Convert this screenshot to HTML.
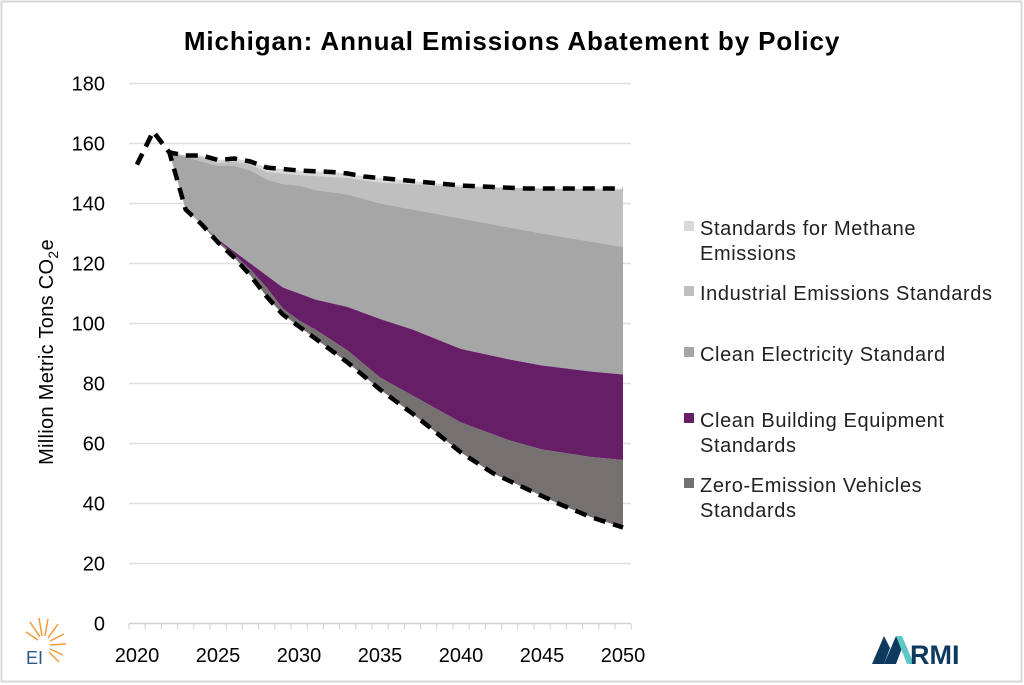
<!DOCTYPE html>
<html><head><meta charset="utf-8"><style>
body{margin:0;background:#fff;}
svg{display:block;font-family:"Liberation Sans",sans-serif;}
</style></head><body>
<svg id="c" width="1024" height="685" viewBox="0 0 1024 685">
<rect x="1.5" y="1.5" width="1020" height="680" fill="#fff" stroke="#d9d9d9" stroke-width="2"/>
<text x="512" y="50" text-anchor="middle" font-size="26" font-weight="bold" fill="#000" letter-spacing="0.9">Michigan: Annual Emissions Abatement by Policy</text>
<g id="grid"></g>
<g id="areas"></g>
<g id="lines"></g>
<g font-size="20" fill="#000" text-anchor="end" id="yl"></g>
<g font-size="20" fill="#000" text-anchor="middle" id="xl"></g>
<text transform="translate(53,352) rotate(-90)" text-anchor="middle" font-size="20" letter-spacing="0.3">Million Metric Tons CO<tspan font-size="14" dy="5">2</tspan><tspan dy="-5">e</tspan></text>
<g font-size="20" fill="#222" letter-spacing="0.6">
<rect x="684" y="221" width="10" height="10" fill="#d9d9d9"/><text x="700" y="235">Standards for Methane</text><text x="700" y="260">Emissions</text>
<rect x="684" y="286" width="10" height="10" fill="#bfbfbf"/><text x="700" y="300">Industrial Emissions Standards</text>
<rect x="684" y="347" width="10" height="10" fill="#a6a6a6"/><text x="700" y="361">Clean Electricity Standard</text>
<rect x="684" y="413" width="10" height="10" fill="#661f66"/><text x="700" y="427">Clean Building Equipment</text><text x="700" y="452">Standards</text>
<rect x="684" y="478" width="10" height="10" fill="#767171"/><text x="700" y="492">Zero-Emission Vehicles</text><text x="700" y="517">Standards</text>
</g>
<g>
<g stroke="#f29a3a" stroke-width="1.5">
<line x1="40" y1="637" x2="30" y2="622"/><line x1="42" y1="636" x2="39" y2="618"/><line x1="45" y1="636" x2="48" y2="619"/><line x1="48" y1="638" x2="58" y2="624"/><line x1="50" y1="641" x2="64" y2="634"/><line x1="50" y1="645" x2="66" y2="644"/><line x1="50" y1="649" x2="63" y2="655"/><line x1="49" y1="652" x2="59" y2="662"/><line x1="38" y1="640" x2="26" y2="632"/>
</g>
<text x="26" y="664" font-size="18" fill="#2a5a8a">EI</text>
<polygon points="872,664 884,636 890,648 884,664" fill="#0f3a5f"/>
<polygon points="884,664 896,636 902,648 896,664" fill="#0f3a5f"/>
<polygon points="896,636 902,636 914,664 907,664" fill="#5cc7c5"/>
<text x="910" y="664" font-size="27" font-weight="bold" fill="#0f3a5f">RMI</text>
</g>
</svg>
<script>
var X=function(y){return 137+16.2*(y-2020)}, Y=function(v){return 623.5-3*v};
var ns="http://www.w3.org/2000/svg";
function el(p,t,a){var e=document.createElementNS(ns,t);for(var k in a)e.setAttribute(k,a[k]);document.getElementById(p).appendChild(e);return e;}
for(var v=20;v<=180;v+=20) el("grid","line",{x1:129,x2:631,y1:Y(v),y2:Y(v),stroke:"#e0e0e0","stroke-width":1.5});
el("grid","line",{x1:129,x2:631,y1:Y(0),y2:Y(0),stroke:"#d0d0d0","stroke-width":1.5});
for(var i=0;i<=31;i++){var xx=129+i*16.2;el("grid","line",{x1:xx,x2:xx,y1:Y(0),y2:Y(0)+6,stroke:"#d0d0d0","stroke-width":1});}
for(var v=0;v<=180;v+=20){var t=el("yl","text",{x:105,y:Y(v)+7});t.textContent=v;}
for(var y=2020;y<=2050;y+=5){var t=el("xl","text",{x:X(y),y:662});t.textContent=y;}
function interp(pts){var out=[];for(var y=2022;y<=2050;y++){for(var i=0;i<pts.length-1;i++){if(y>=pts[i][0]&&y<=pts[i+1][0]){var f=(y-pts[i][0])/(pts[i+1][0]-pts[i][0]);out.push(pts[i][1]+f*(pts[i+1][1]-pts[i][1]));break;}}}return out;}
var tp=interp([[2022,157],[2023,156],[2024,156],[2025,154.5],[2026,155],[2027,154],[2028,152],[2029,151.5],[2030,151],[2032,150.5],[2033,150],[2034,149],[2036,148],[2038,147],[2040,146],[2042,145.5],[2044,145],[2050,145]]);
var ind=interp([[2022,157],[2023,156],[2024,155.5],[2025,153.5],[2026,154],[2027,153],[2028,150.5],[2029,150],[2030,149.5],[2033,148.5],[2035,147],[2040,145.5],[2045,145],[2050,144.5]]);
var ce=interp([[2022,157],[2023,155.5],[2024,154],[2025,152.5],[2026,152.5],[2027,151],[2028,148],[2029,146.5],[2030,146],[2031,144.5],[2033,143],[2035,140],[2037,138],[2040,135],[2045,130],[2050,125.5]]);
var cb=interp([[2022,157],[2023,138],[2024,133],[2025,128],[2026,124],[2027,120],[2028,116],[2029,112],[2030,110],[2031,108],[2033,105.5],[2035,101.5],[2037,98],[2040,91.5],[2043,88],[2045,86],[2048,84],[2050,83]]);
var zv=interp([[2022,157],[2023,138],[2024,133],[2025,127.5],[2026,123],[2027,118],[2028,112],[2029,105],[2030,101],[2031,98],[2033,91],[2035,82],[2037,76],[2040,67],[2043,61],[2045,58],[2048,55.5],[2050,54.5]]);
var bot=interp([[2022,157],[2023,138],[2024,133],[2025,127],[2026,122],[2027,116],[2028,109],[2029,103],[2030,99],[2031,95],[2033,87],[2035,78],[2037,70],[2040,57],[2042,50],[2044,45],[2046,40],[2048,35.5],[2050,32]]);
function area(a,b,c){var d="M";for(var i=0;i<a.length;i++)d+=X(2022+i)+","+Y(a[i])+" L";for(var i=b.length-1;i>=0;i--)d+=X(2022+i)+","+Y(b[i])+(i?" L":"Z");el("areas","path",{d:d,fill:c});}
area(tp,ind,"#d9d9d9");area(ind,ce,"#bfbfbf");area(ce,cb,"#a6a6a6");area(cb,zv,"#661f66");area(zv,bot,"#767171");
function line(arr){var d="M"+X(2020)+","+Y(153)+" L"+X(2021)+","+Y(164);for(var i=0;i<arr.length;i++)d+=" L"+X(2022+i)+","+Y(arr[i]);el("lines","path",{d:d,fill:"none",stroke:"#000","stroke-width":4.5,"stroke-dasharray":"12,8","stroke-linejoin":"round"});}
line(tp);line(bot);
</script>
</body></html>
